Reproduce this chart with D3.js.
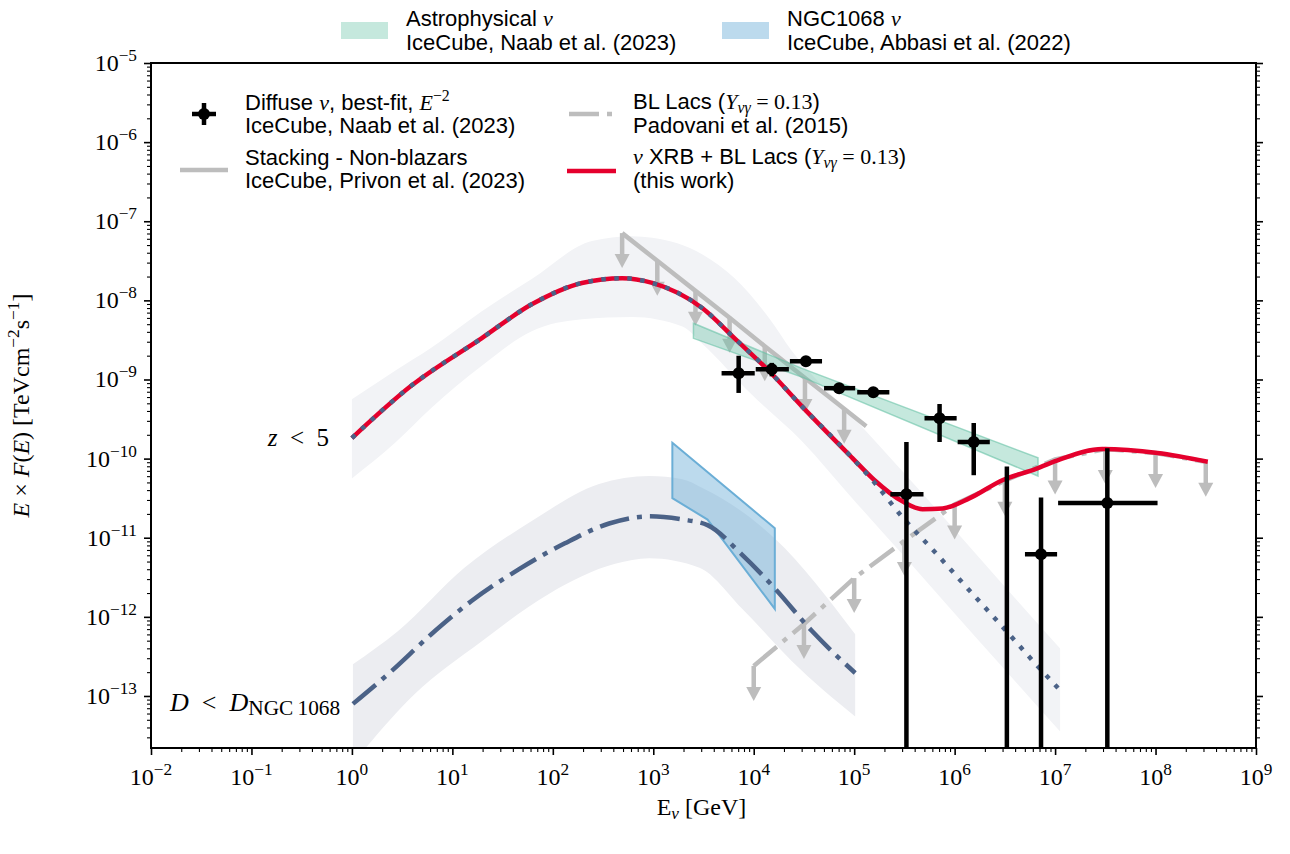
<!DOCTYPE html>
<html>
<head>
<meta charset="utf-8">
<script src="https://cdn.jsdelivr.net/npm/d3@7"></script>
<style>
  body { margin: 0; background: #fff; }
</style>
</head>
<body>
<div id="chart"></div>
<script>
// all values are log10
// x: log10(E / GeV), y: log10(E F(E) / TeV cm^-2 s^-1)
const xTickExp = [-2, -1, 0, 1, 2, 3, 4, 5, 6, 7, 8, 9];
const yTickExp = [-13, -12, -11, -10, -9, -8, -7, -6, -5];

// nu XRB + BL Lacs (this work)
const redE = [0.0, 0.59, 1.29, 1.79, 2.29, 2.69, 2.99, 3.49, 3.81, 4.15, 4.48, 4.98, 5.20, 5.48, 5.68, 5.88, 6.15, 6.48, 6.81, 7.05, 7.47, 8.02, 8.52];
const redF = [-9.74, -9.08, -8.48, -8.05, -7.78, -7.72, -7.78, -8.10, -8.48, -8.89, -9.34, -9.99, -10.27, -10.54, -10.64, -10.63, -10.50, -10.27, -10.13, -10.01, -9.88, -9.93, -10.04];

// XRB only, z < 5 (dotted)
const xrbE = [0.0, 0.59, 1.29, 1.79, 2.29, 2.69, 2.99, 3.49, 3.81, 4.15, 4.48, 4.98, 5.20, 5.48, 5.81, 6.15, 6.48, 6.81, 7.03];
const xrbF = [-9.74, -9.08, -8.48, -8.05, -7.78, -7.72, -7.78, -8.10, -8.48, -8.89, -9.34, -9.99, -10.30, -10.74, -11.19, -11.67, -12.13, -12.60, -12.90];

// z < 5 uncertainty band
const zBandUpE = [0.0, 0.43, 0.79, 1.29, 1.79, 2.39, 2.79, 2.99, 3.49, 3.81, 4.15, 4.38, 4.98, 5.48, 5.98, 6.48, 7.05];
const zBandUpF = [-9.25, -8.89, -8.60, -8.14, -7.73, -7.25, -7.19, -7.21, -7.42, -7.72, -8.22, -8.64, -9.46, -10.16, -10.87, -11.59, -12.40];
const zBandLoE = [0.0, 0.43, 0.79, 1.29, 1.79, 2.29, 2.79, 3.29, 3.49, 3.98, 4.48, 4.98, 5.48, 5.98, 6.48, 7.05];
const zBandLoF = [-10.25, -9.80, -9.36, -8.83, -8.39, -8.24, -8.21, -8.33, -8.55, -9.19, -9.78, -10.50, -11.21, -11.93, -12.64, -13.45];

// XRB, D < D_NGC1068 (dash-dot)
const ngcE = [0.01, 0.39, 0.79, 1.19, 1.66, 2.12, 2.56, 2.96, 3.29, 3.54, 3.88, 4.21, 4.58, 5.01];
const ngcF = [-13.10, -12.69, -12.22, -11.80, -11.40, -11.07, -10.82, -10.73, -10.77, -10.84, -11.21, -11.64, -12.18, -12.71];
const ngcBandUpE = [0.01, 0.46, 1.12, 1.79, 2.46, 2.96, 3.29, 3.49, 4.21, 5.01];
const ngcBandUpF = [-12.60, -12.18, -11.38, -10.79, -10.32, -10.22, -10.26, -10.37, -11.01, -12.22];
const ngcBandLoE = [0.01, 0.62, 1.29, 1.96, 2.62, 2.96, 3.46, 3.88, 4.38, 5.01];
const ngcBandLoF = [-13.85, -12.98, -12.31, -11.71, -11.33, -11.26, -11.38, -11.89, -12.56, -13.26];

// IceCube stacking, non-blazars (upper limits; last point is the line end)
const stackE = [2.69, 3.04, 3.42, 3.76, 4.11, 4.51, 4.90, 5.12];
const stackF = [-7.15, -7.50, -7.88, -8.22, -8.58, -8.98, -9.37, -9.59];

// BL Lacs, Padovani et al. (upper limits)
const blE = [4.0, 4.5, 5.0, 5.5, 6.0, 6.5, 7.0, 7.5, 8.0, 8.5];
const blF = [-12.62, -12.09, -11.51, -11.04, -10.58, -10.28, -10.01, -9.88, -9.93, -10.04];

// diffuse nu, IceCube Naab et al. (2023)
const diffE   = [3.85, 4.18, 4.52, 4.85, 5.19, 5.52, 5.85, 6.19, 6.52, 6.86, 7.52];
const diffELo = [3.68, 4.02, 4.36, 4.70, 5.03, 5.36, 5.70, 6.03, 6.36, 6.70, 7.03];
const diffEHi = [4.01, 4.35, 4.68, 5.01, 5.35, 5.69, 6.02, 6.35, 6.68, 7.02, 8.02];
const diffF   = [-8.92, -8.87, -8.77, -9.11, -9.16, -10.45, -9.49, -9.79, -14.0, -11.21, -10.56];
const diffFLo = [-9.17, -8.96, -8.81, -9.15, -9.20, -16.0, -9.79, -10.21, -16.0, -16.0, -16.0];
const diffFHi = [-8.70, -8.79, -8.72, -9.07, -9.12, -9.79, -9.31, -9.55, -10.10, -10.49, -9.87];

// astrophysical nu band (Naab et al. 2023)
const astroE = [3.40, 4.48, 6.83];
const astroUp = [-8.29, -8.86, -9.99];
const astroLo = [-8.48, -8.97, -10.22];

// NGC1068 band (Abbasi et al. 2022)
const ngcObsUpE = [3.19, 4.21];
const ngcObsUpF = [-9.80, -10.88];
const ngcObsLoE = [3.19, 3.54, 4.21];
const ngcObsLoF = [-10.50, -10.77, -11.90];

const SERIF = "'Liberation Serif', 'DejaVu Serif', serif";
const SANS = "'Liberation Sans', 'DejaVu Sans', sans-serif";
const GRAY = "#bdbdbd", RED = "#e5002d", SLATE = "#4b6287";

const W = 1290, H = 854;
const margin = {top: 63, right: 34, bottom: 106, left: 151};
const width = W - margin.left - margin.right,
      height = H - margin.top - margin.bottom;

const svg = d3.select("#chart").append("svg")
  .attr("width", W).attr("height", H)
  .style("font-family", SANS);

const g = svg.append("g")
  .attr("transform", "translate(" + margin.left + "," + margin.top + ")");

const x = d3.scaleLog().domain([1e-2, 1e9]).range([0, width]);
const y = d3.scaleLog().domain([2.2e-14, 1e-5]).range([height, 0]);
const px = e => x(Math.pow(10, e));
const py = f => y(Math.pow(10, f));
const zip = (a, b) => a.map((v, i) => [v, b[i]]);

// text with sub/superscripts and math italics
function rich(sel, parts, size, subScale) {
  const t = sel.append("text").style("font-size", size + "px");
  const ss = subScale || 0.72;
  let shift = 0;
  parts.forEach(p => {
    const s = p[0], k = (p[1] || "").split(" ");
    const ts = t.append("tspan").text(s);
    let target = 0;
    if (k.includes("sup")) { target = -0.42 * size; ts.style("font-size", (size * ss) + "px"); }
    if (k.includes("sub")) { target = 0.17 * size; ts.style("font-size", (size * ss) + "px"); }
    if (target !== shift) { ts.attr("dy", target - shift); shift = target; }
    if (k.includes("m")) ts.style("font-family", SERIF).style("font-style", "italic");
    if (k.includes("r")) ts.style("font-family", SERIF);
  });
  return t;
}

// clipping
g.append("defs").append("clipPath").attr("id", "clip")
  .append("rect").attr("width", width).attr("height", height);
const main = g.append("g").attr("clip-path", "url(#clip)");

const smooth = d3.line().x(d => px(d[0])).y(d => py(d[1])).curve(d3.curveMonotoneX);
const straight = d3.line().x(d => px(d[0])).y(d => py(d[1]));

function bandPath(upE, upF, loE, loF, ln) {
  const up = ln(zip(upE, upF));
  const lo = ln(zip(loE, loF).reverse());
  return up + lo.replace(/^M/, "L") + "Z";
}

// bands
main.append("path").attr("d", bandPath(zBandUpE, zBandUpF, zBandLoE, zBandLoF, smooth))
  .attr("fill", "#f2f3f6");
main.append("path").attr("d", bandPath(ngcBandUpE, ngcBandUpF, ngcBandLoE, ngcBandLoF, smooth))
  .attr("fill", "#ecedf1");

// upper-limit arrow
function arrow(sel, cx, cy) {
  sel.append("line").attr("x1", cx).attr("x2", cx).attr("y1", cy).attr("y2", cy + 24)
    .attr("stroke", GRAY).attr("stroke-width", 4.5);
  sel.append("path")
    .attr("d", "M" + (cx - 7.5) + "," + (cy + 21) + "L" + (cx + 7.5) + "," + (cy + 21) + "L" + cx + "," + (cy + 35) + "Z")
    .attr("fill", GRAY);
}

// stacking limits
main.append("path").attr("d", straight(zip(stackE, stackF)))
  .attr("fill", "none").attr("stroke", GRAY).attr("stroke-width", 4.5);
stackE.slice(0, -1).forEach((e, i) => arrow(main, px(e), py(stackF[i])));

// BL Lacs limits
main.append("path").attr("d", straight(zip(blE, blF)))
  .attr("fill", "none").attr("stroke", GRAY).attr("stroke-width", 4.5)
  .attr("stroke-dasharray", "30,8,5,8");
blE.forEach((e, i) => arrow(main, px(e), py(blF[i])));

// observed bands
main.append("path").attr("d", bandPath(ngcObsUpE, ngcObsUpF, ngcObsLoE, ngcObsLoF, straight))
  .attr("fill", "#6baed6").attr("fill-opacity", 0.45)
  .attr("stroke", "#6baed6").attr("stroke-width", 2);
main.append("path").attr("d", bandPath(astroE, astroUp, astroE, astroLo, straight))
  .attr("fill", "#66c2a5").attr("fill-opacity", 0.38)
  .attr("stroke", "#66c2a5").attr("stroke-opacity", 0.6).attr("stroke-width", 1.5);

// model curves
main.append("path").attr("d", smooth(zip(ngcE, ngcF)))
  .attr("fill", "none").attr("stroke", SLATE).attr("stroke-width", 4.5)
  .attr("stroke-dasharray", "30,8,5,8");
main.append("path").attr("d", smooth(zip(redE, redF)))
  .attr("fill", "none").attr("stroke", RED).attr("stroke-width", 4.5);
main.append("path").attr("d", smooth(zip(xrbE, xrbF)))
  .attr("fill", "none").attr("stroke", SLATE).attr("stroke-width", 4.5)
  .attr("stroke-dasharray", "4.5,8.5");

// diffuse points
const pts = main.append("g");
diffE.forEach((e, i) => {
  pts.append("line").attr("x1", px(diffELo[i])).attr("x2", px(diffEHi[i]))
    .attr("y1", py(diffF[i])).attr("y2", py(diffF[i]))
    .attr("stroke", "#000").attr("stroke-width", 4.5);
  pts.append("line").attr("x1", px(e)).attr("x2", px(e))
    .attr("y1", py(diffFLo[i])).attr("y2", py(diffFHi[i]))
    .attr("stroke", "#000").attr("stroke-width", 4.5);
  pts.append("circle").attr("cx", px(e)).attr("cy", py(diffF[i])).attr("r", 6).attr("fill", "#000");
});

// axes: ticks
const minorOf = exps => {
  const out = [];
  exps.forEach(k => d3.range(2, 10).forEach(m => out.push(m * Math.pow(10, k))));
  return out;
};
const xMajor = xTickExp.map(k => Math.pow(10, k));
const xMinor = minorOf(xTickExp.slice(0, -1));
const yMajor = yTickExp.map(k => Math.pow(10, k));
const yMinor = minorOf(d3.range(-14, -5)).filter(v => v > 2.2e-14 && v < 1e-5);

function ticks(axis, vals, len, w, tr) {
  const a = g.append("g").attr("transform", tr)
    .call(axis.tickValues(vals).tickSize(len).tickFormat(""));
  a.select(".domain").remove();
  a.selectAll(".tick line").attr("stroke-width", w);
}
const bt = "translate(0," + height + ")", rt = "translate(" + width + ",0)";
ticks(d3.axisBottom(x), xMajor, 7, 1.6, bt);
ticks(d3.axisBottom(x), xMinor, 4, 1.1, bt);
ticks(d3.axisLeft(y), yMajor, 7, 1.6, null);
ticks(d3.axisLeft(y), yMinor, 4, 1.1, null);
ticks(d3.axisRight(y), yMajor, 7, 1.6, rt);
ticks(d3.axisRight(y), yMinor, 4, 1.1, rt);

// frame
g.append("rect").attr("width", width).attr("height", height)
  .attr("fill", "none").attr("stroke", "#000").attr("stroke-width", 2);

// tick labels
xTickExp.forEach(k => {
  rich(g, [["10", "r"], [(k < 0 ? "\u2212" : "") + Math.abs(k), "r sup"]], 24)
    .attr("x", x(Math.pow(10, k))).attr("y", height + 37).attr("text-anchor", "middle");
});
yTickExp.forEach(k => {
  rich(g, [["10", "r"], ["\u2212" + Math.abs(k), "r sup"]], 24)
    .attr("x", -14).attr("y", y(Math.pow(10, k)) + 8).attr("text-anchor", "end");
});

// axis titles
rich(g, [["E", "r"], ["\u03bd", "m sub"], [" [GeV]", "r"]], 24)
  .attr("x", width / 2 - 2).attr("y", height + 67).attr("text-anchor", "middle");
rich(g, [["E", "m"], [" \u00d7 ", "r"], ["F", "m"], ["(", "r"], ["E", "m"], [") [TeVcm", "r"],
         ["\u22122", "r sup"], ["s", "r"], ["\u22121", "r sup"], ["]", "r"]], 24)
  .attr("text-anchor", "middle")
  .attr("transform", "translate(" + (-122) + "," + (height / 2) + ") rotate(-90)");

// curve labels
rich(svg, [["z", "m"], ["\u2002<\u20025", "r"]], 25).attr("x", 329).attr("y", 446).attr("text-anchor", "end");
rich(svg, [["D", "m"], ["\u2002<\u2002", "r"], ["D", "m"], ["NGC\u20091068", "r sub"]], 26, 0.82).attr("x", 170).attr("y", 711);

// legend above the plot
const topLeg = [
  {x: 341, fill: "#66c2a5", op: 0.38, l1: [["Astrophysical "], ["\u03bd", "m"]], l2: "IceCube, Naab et al. (2023)"},
  {x: 722, fill: "#6baed6", op: 0.45, l1: [["NGC1068 "], ["\u03bd", "m"]], l2: "IceCube, Abbasi et al. (2022)"}
];
topLeg.forEach(d => {
  svg.append("rect").attr("x", d.x).attr("y", 22).attr("width", 47).attr("height", 17)
    .attr("fill", d.fill).attr("fill-opacity", d.op);
  rich(svg, d.l1, 22).attr("x", d.x + 65).attr("y", 26);
  rich(svg, [[d.l2]], 22).attr("x", d.x + 65).attr("y", 50);
});

// legend inside the plot
const leg = svg.append("g");
leg.append("line").attr("x1", 192).attr("x2", 216).attr("y1", 114).attr("y2", 114).attr("stroke", "#000").attr("stroke-width", 4.5);
leg.append("line").attr("x1", 204).attr("x2", 204).attr("y1", 103).attr("y2", 125).attr("stroke", "#000").attr("stroke-width", 4.5);
leg.append("circle").attr("cx", 204).attr("cy", 114).attr("r", 6).attr("fill", "#000");
rich(leg, [["Diffuse "], ["\u03bd", "m"], [", best-fit, "], ["E", "m"], ["\u22122", "r sup"]], 22).attr("x", 245).attr("y", 110);
rich(leg, [["IceCube, Naab et al. (2023)"]], 22).attr("x", 245).attr("y", 133);

leg.append("line").attr("x1", 180).attr("x2", 228).attr("y1", 170).attr("y2", 170).attr("stroke", GRAY).attr("stroke-width", 4.5);
rich(leg, [["Stacking - Non-blazars"]], 22).attr("x", 245).attr("y", 165);
rich(leg, [["IceCube, Privon et al. (2023)"]], 22).attr("x", 245).attr("y", 188);

leg.append("line").attr("x1", 569).attr("x2", 614).attr("y1", 114).attr("y2", 114).attr("stroke", GRAY).attr("stroke-width", 4.5)
  .attr("stroke-dasharray", "30,8,5,8");
rich(leg, [["BL Lacs ("], ["Y", "m"], ["\u03bd\u03b3", "m sub"], [" = 0.13", "r"], [")"]], 22).attr("x", 633).attr("y", 109);
rich(leg, [["Padovani et al. (2015)"]], 22).attr("x", 633).attr("y", 133);

leg.append("line").attr("x1", 567).attr("x2", 616).attr("y1", 171).attr("y2", 171).attr("stroke", RED).attr("stroke-width", 4.5);
rich(leg, [["\u03bd", "m"], [" XRB + BL Lacs ("], ["Y", "m"], ["\u03bd\u03b3", "m sub"], [" = 0.13", "r"], [")"]], 22).attr("x", 633).attr("y", 164);
rich(leg, [["(this work)"]], 22).attr("x", 633).attr("y", 188);
</script>
</body>
</html>
